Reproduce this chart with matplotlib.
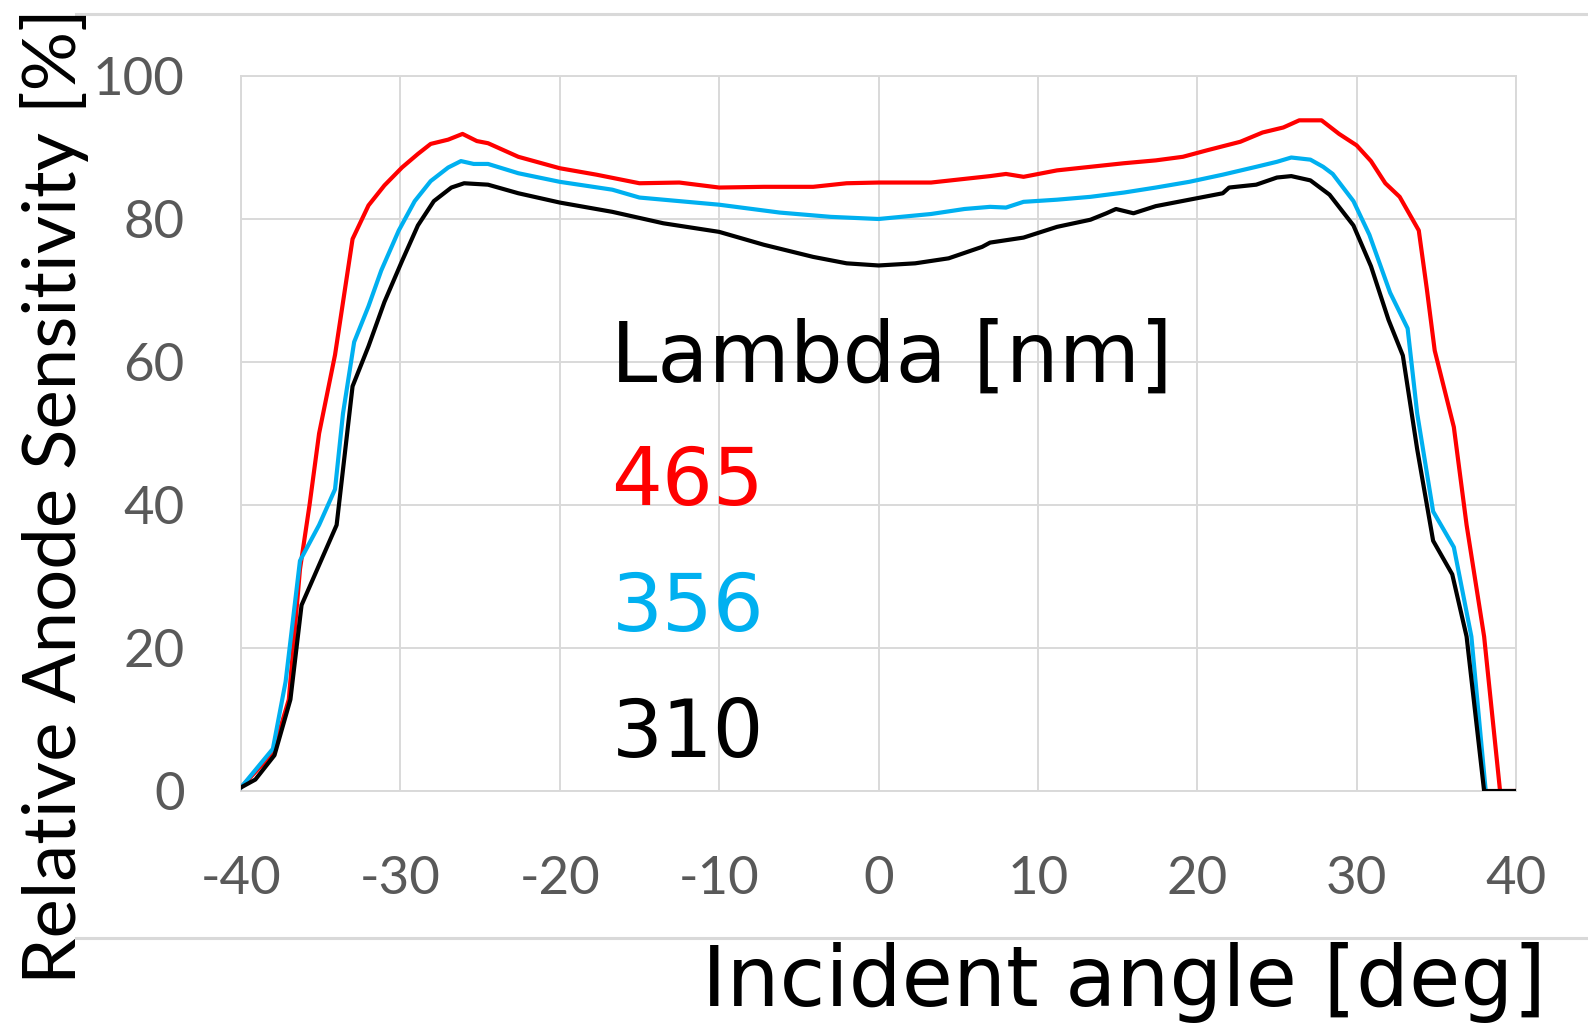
import matplotlib
matplotlib.use("Agg")
import matplotlib.pyplot as plt
from matplotlib.lines import Line2D

plt.rcParams['font.family'] = ['Lato', 'DejaVu Sans']

# Incident angle [deg] and relative anode sensitivity [%] for each wavelength
angle_465 = [-40, -38.0, -37.0, -36.3, -35.7, -35.1, -34.1, -33.0, -32.0, -31.0, -29.9,
             -28.9, -28.1, -27.0, -26.1, -25.2, -24.5, -22.6, -20.0, -17.7, -15.0, -12.5,
             -10.0, -7.2, -4.1, -2.0, 0.0, 3.3, 7.0, 8.0, 9.1, 11.2, 13.3, 15.4, 17.4,
             19.1, 20.6, 22.7, 24.1, 25.4, 26.4, 27.8, 28.9, 30.0, 30.9, 31.8, 32.7, 33.9,
             34.4, 34.9, 36.1, 36.9, 38.0, 39.0, 40.0]
sens_465 = [0.5, 5.3, 12.8, 31.0, 40.0, 50.0, 61.0, 77.2, 81.9, 84.7, 87.2,
            89.1, 90.5, 91.1, 91.9, 90.9, 90.6, 88.7, 87.1, 86.2, 85.0, 85.1,
            84.4, 84.5, 84.5, 85.0, 85.1, 85.1, 86.0, 86.3, 85.9, 86.8, 87.3, 87.8, 88.2,
            88.7, 89.6, 90.8, 92.1, 92.8, 93.8, 93.8, 91.9, 90.3, 88.1, 85.0, 83.1, 78.4,
            70.3, 61.6, 50.9, 37.2, 21.6, 0.0, 0.0]

angle_356 = [-40, -38.0, -37.2, -36.3, -35.1, -34.1, -33.6, -32.9, -32.0, -31.2, -30.1,
             -29.1, -28.1, -27.0, -26.2, -25.4, -24.5, -22.6, -20.0, -16.7, -15.0, -12.5,
             -10.0, -6.2, -3.0, 0.0, 3.3, 5.4, 7.0, 8.0, 9.1, 11.2, 13.3, 15.4, 17.4,
             19.5, 21.6, 23.7, 25.0, 25.9, 27.1, 27.9, 28.5, 29.8, 30.8, 32.1, 33.2,
             33.8, 34.8, 36.1, 37.2, 38.1]
sens_356 = [0.5, 5.9, 15.3, 32.2, 37.2, 42.2, 52.8, 62.8, 67.8, 72.8, 78.4,
            82.5, 85.3, 87.2, 88.1, 87.7, 87.7, 86.4, 85.2, 84.1, 83.0, 82.5,
            82.0, 80.9, 80.3, 80.0, 80.7, 81.4, 81.7, 81.6, 82.4, 82.7, 83.1, 83.7, 84.4,
            85.2, 86.2, 87.3, 88.0, 88.6, 88.3, 87.3, 86.3, 82.5, 77.8, 69.7, 64.7,
            52.8, 39.1, 34.1, 21.6, 0.0]

angle_310 = [-40, -39.1, -37.9, -36.9, -36.2, -35.1, -34.0, -33.0, -32.0, -31.0, -29.9,
             -28.9, -27.9, -26.8, -26.0, -24.5, -22.6, -20.0, -16.7, -13.5, -10.0, -7.2,
             -4.1, -2.0, 0.0, 2.3, 4.4, 6.5, 7.0, 9.1, 11.2, 13.3, 14.3, 14.9, 16.0, 17.4,
             19.5, 21.6, 22.0, 23.7, 25.0, 25.9, 27.1, 28.3, 29.8, 30.9, 32.0, 32.9,
             33.8, 34.8, 36.0, 36.9, 38.0, 40.0]
sens_310 = [0.5, 1.6, 5.0, 12.8, 26.0, 31.6, 37.2, 56.6, 62.2, 68.4, 74.1,
            79.1, 82.5, 84.4, 85.0, 84.8, 83.6, 82.3, 81.0, 79.4, 78.2, 76.4,
            74.7, 73.8, 73.5, 73.8, 74.5, 76.1, 76.7, 77.4, 78.9, 79.9, 80.8, 81.4, 80.8, 81.8,
            82.7, 83.6, 84.4, 84.8, 85.8, 86.0, 85.4, 83.4, 79.1, 73.4, 65.9, 60.9,
            47.8, 35.0, 30.3, 21.6, 0.0, 0.0]

wavelengths = ["465", "356", "310"]
colors = ["#FF0000", "#00B0F0", "#000000"]
x_ticks = [-40, -30, -20, -10, 0, 10, 20, 30, 40]
y_ticks = [0, 20, 40, 60, 80, 100]

W, H = 1588, 1027
fig = plt.figure(figsize=(W / 100, H / 100), dpi=100)
fig.patch.set_facecolor("white")

# chart-area border lines
grid_col = "#D9D9D9"
fig.add_artist(Line2D([76 / W, 1.0], [1 - 14 / H, 1 - 14 / H], color=grid_col, lw=2.2,
                      transform=fig.transFigure))
fig.add_artist(Line2D([76 / W, 1.0], [1 - 938 / H, 1 - 938 / H], color=grid_col, lw=2.2,
                      transform=fig.transFigure))

ax = fig.add_axes([241 / W, 1 - 791 / H, (1516 - 241) / W, (791 - 76) / H])
ax.set_xlim(-40, 40)
ax.set_ylim(0, 100)
ax.set_xticks(x_ticks)
ax.set_yticks(y_ticks)
ax.set_xticklabels([str(v) for v in x_ticks])
ax.set_yticklabels([str(v) for v in y_ticks])
ax.grid(True, color=grid_col, lw=1.4)
ax.set_axisbelow(True)
for s in ax.spines.values():
    s.set_color(grid_col)
    s.set_linewidth(1.4)
ax.tick_params(length=0, labelsize=38, labelcolor="#595959")
ax.tick_params(axis="x", pad=47)
ax.tick_params(axis="y", pad=40.5)

series = [(angle_465, sens_465), (angle_356, sens_356), (angle_310, sens_310)]
for (xa, ya), c in zip(series, colors):
    ax.plot(xa, ya, color=c, lw=3.0, solid_joinstyle="round", zorder=3)

# wavelength key written inside the plot
key_font = "DejaVu Sans"
ax.text(-16.8, 57.2, "Lambda [nm]", fontsize=60, family=key_font, color="black",
        ha="left", va="baseline")
for lab, c, yb in zip(wavelengths, colors, [40.0, 22.4, 4.7]):
    ax.text(-16.75, yb, lab, fontsize=57.5, family=key_font, color=c,
            ha="left", va="baseline")

fig.text(1124 / W, 1 - 1006 / H, "Incident angle [deg]", fontsize=60, family=key_font,
         color="black", ha="center", va="baseline")
fig.text(76 / W, 1 - 496 / H, "Relative Anode Sensitivity [%]", fontsize=53.5, color="black",
         ha="center", va="baseline", rotation=90, rotation_mode="anchor")

fig.savefig("out.png", dpi=100)
